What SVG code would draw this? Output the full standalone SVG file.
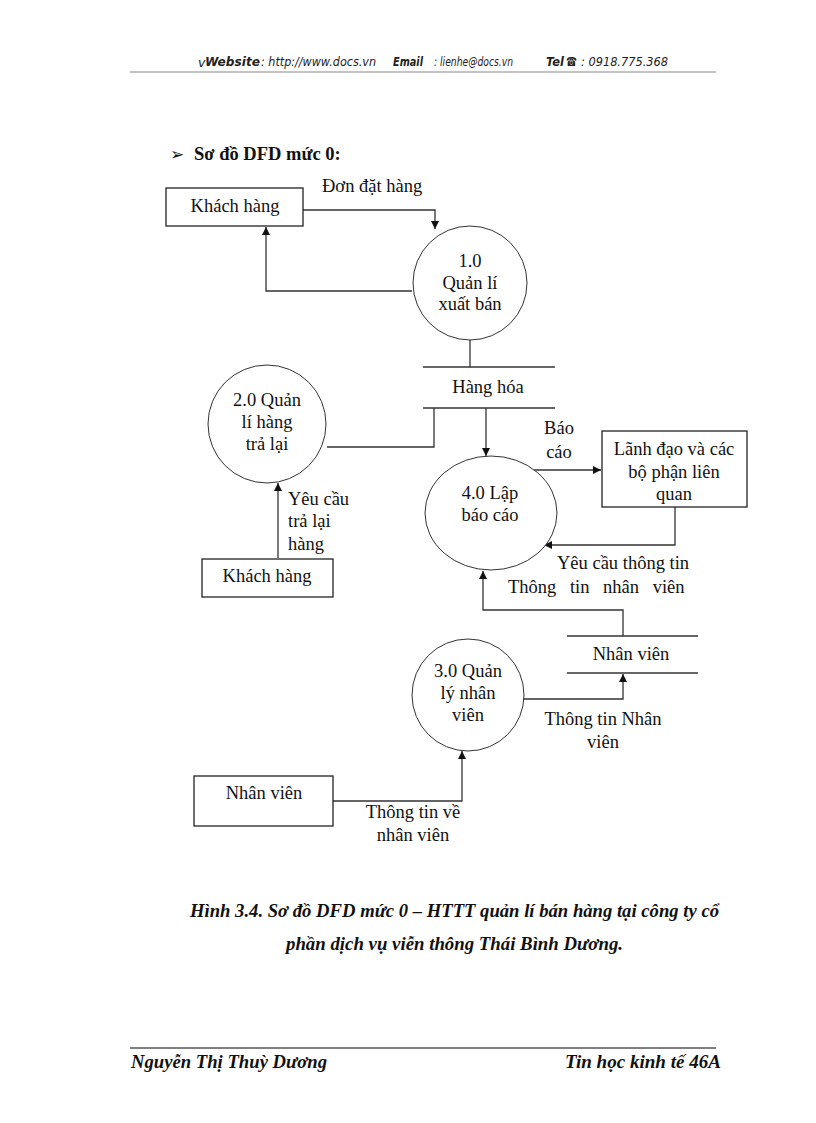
<svg xmlns="http://www.w3.org/2000/svg" width="816" height="1123" viewBox="0 0 816 1123">
<style>
.t{font-family:"Liberation Serif","Times New Roman",serif;font-size:18.5px;fill:#111}
.c{text-anchor:middle}
.box{fill:#fff;stroke:#222;stroke-width:1.3}
.proc{fill:#fff;stroke:#333;stroke-width:1}
.st{stroke:#333;stroke-width:1.3;fill:none}
.ln{stroke:#333;stroke-width:1.3;fill:none}
.hdr{font-family:"DejaVu Sans","Liberation Sans",sans-serif;font-style:italic;font-size:12.5px;fill:#222}
.hb{font-weight:bold}
.cap{font-family:"Liberation Serif","Times New Roman",serif;font-weight:bold;font-style:italic;font-size:18.5px;fill:#111}
</style>
<defs>
<marker id="ah" markerUnits="userSpaceOnUse" markerWidth="9" markerHeight="9" refX="8" refY="4" orient="auto">
<path d="M0,0 L8,4 L0,8 z" fill="#111"/>
</marker>
</defs>
<rect width="816" height="1123" fill="#fff"/>

<g id="header">
<text class="hdr" x="198" y="67" font-size="10" font-style="normal">v</text>
<text class="hdr hb" x="205" y="66" textLength="55" lengthAdjust="spacingAndGlyphs">Website</text>
<text class="hdr" x="261" y="66" textLength="115" lengthAdjust="spacingAndGlyphs">: http://www.docs.vn</text>
<text class="hdr hb" x="393" y="66" textLength="30" lengthAdjust="spacingAndGlyphs">Email</text>
<text class="hdr" x="434" y="66" textLength="79" lengthAdjust="spacingAndGlyphs">: lienhe@docs.vn</text>
<text class="hdr hb" x="546" y="66" textLength="18" lengthAdjust="spacingAndGlyphs">Tel</text>
<text class="hdr hb" x="566" y="66" font-style="normal" font-size="10" textLength="11" lengthAdjust="spacingAndGlyphs">☎</text>
<text class="hdr" x="581" y="66" textLength="87" lengthAdjust="spacingAndGlyphs">: 0918.775.368</text>
<line x1="130" y1="72" x2="716" y2="72" stroke="#888" stroke-width="1.2"/>
</g>

<g id="title">
<text x="170" y="160" font-family="DejaVu Sans,sans-serif" font-size="17" font-weight="bold" fill="#111">➢</text>
<text class="t" x="194" y="160" font-weight="bold" font-size="18">Sơ đồ DFD mức 0:</text>
</g>

<g id="connectors">
<path class="ln" d="M303,210 H435 V229" marker-end="url(#ah)"/>
<path class="ln" d="M412,291 H266 V227" marker-end="url(#ah)"/>
<path class="ln" d="M470,340 V367"/>
<path class="ln" d="M327,447 H434 V408"/>
<path class="ln" d="M486,408 V456" marker-end="url(#ah)"/>
<path class="ln" d="M533,470 H601" marker-end="url(#ah)"/>
<path class="ln" d="M675,507 V545 H544" marker-end="url(#ah)"/>
<path class="ln" d="M623,636 V610 H483 V571" marker-end="url(#ah)"/>
<path class="ln" d="M278,558 V483" marker-end="url(#ah)"/>
<path class="ln" d="M519,699 H623 V674" marker-end="url(#ah)"/>
<path class="ln" d="M333,801 H462 V751" marker-end="url(#ah)"/>
</g>

<g id="labels">
<text class="t" x="322" y="192">Đơn đặt hàng</text>
<text class="t c" x="559" y="434">Báo</text>
<text class="t c" x="559" y="458">cáo</text>
<text class="t" x="557" y="569">Yêu cầu thông tin</text>
<text class="t" x="508" y="593" word-spacing="9">Thông tin nhân viên</text>
<text class="t" x="288" y="505">Yêu cầu</text>
<text class="t" x="288" y="527">trả lại</text>
<text class="t" x="288" y="550">hàng</text>
<text class="t c" x="603" y="725">Thông tin Nhân</text>
<text class="t c" x="603" y="748">viên</text>
<text class="t c" x="413" y="818">Thông tin về</text>
<text class="t c" x="413" y="841">nhân viên</text>
</g>

<g id="kh1">
<rect class="box" x="166" y="188" width="137" height="38"/>
<text class="t c" x="235" y="212">Khách hàng</text>
</g>

<g id="p1">
<circle class="proc" cx="470" cy="283" r="57"/>
<text class="t c" x="470" y="267">1.0</text>
<text class="t c" x="470" y="289">Quản lí</text>
<text class="t c" x="470" y="310">xuất bán</text>
</g>

<g id="ds_hanghoa">
<line class="st" x1="423" y1="367" x2="555" y2="367"/>
<line class="st" x1="423" y1="408" x2="555" y2="408"/>
<text class="t c" x="488" y="393">Hàng hóa</text>
</g>

<g id="p2">
<circle class="proc" cx="267" cy="424" r="59"/>
<text class="t c" x="267" y="406">2.0 Quản</text>
<text class="t c" x="267" y="428">lí hàng</text>
<text class="t c" x="267" y="450">trả lại</text>
</g>

<g id="p4">
<ellipse class="proc" cx="491" cy="513" rx="66" ry="57"/>
<text class="t c" x="490" y="499">4.0 Lập</text>
<text class="t c" x="490" y="521">báo cáo</text>
</g>

<g id="lanhdao">
<rect class="box" x="602" y="431" width="145" height="76"/>
<text class="t c" x="674" y="455">Lãnh đạo và các</text>
<text class="t c" x="674" y="478">bộ phận liên</text>
<text class="t c" x="674" y="500">quan</text>
</g>

<g id="kh2">
<rect class="box" x="202" y="559" width="131" height="38"/>
<text class="t c" x="267" y="582">Khách hàng</text>
</g>

<g id="ds_nhanvien">
<line class="st" x1="567" y1="636" x2="698" y2="636"/>
<line class="st" x1="567" y1="673" x2="698" y2="673"/>
<text class="t c" x="631" y="660">Nhân viên</text>
</g>

<g id="p3">
<circle class="proc" cx="468" cy="695" r="56"/>
<text class="t c" x="468" y="677">3.0 Quản</text>
<text class="t c" x="468" y="699">lý nhân</text>
<text class="t c" x="468" y="721">viên</text>
</g>

<g id="nv">
<rect class="box" x="194" y="776" width="139" height="50"/>
<text class="t c" x="264" y="799">Nhân viên</text>
</g>

<g id="caption">
<text class="cap" x="190" y="917" textLength="529" lengthAdjust="spacingAndGlyphs">Hình 3.4. Sơ đồ DFD mức 0 – HTTT quản lí bán hàng tại công ty cổ</text>
<text class="cap" x="286" y="950" textLength="337" lengthAdjust="spacingAndGlyphs">phần dịch vụ viễn thông Thái Bình Dương.</text>
</g>

<g id="footer">
<line x1="130" y1="1048" x2="716" y2="1048" stroke="#555" stroke-width="1.5"/>
<text class="cap" x="131" y="1068" textLength="196" lengthAdjust="spacingAndGlyphs">Nguyễn Thị Thuỳ Dương</text>
<text class="cap" x="565" y="1068" textLength="156" lengthAdjust="spacingAndGlyphs">Tin học kinh tế 46A</text>
</g>
</svg>
